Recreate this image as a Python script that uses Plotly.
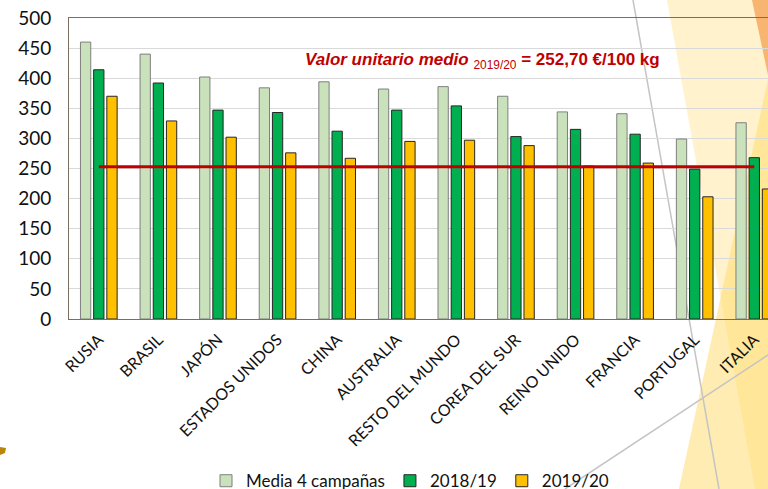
import plotly.graph_objects as go

# datos (EUR/100 kg)
paises = ["RUSIA", "BRASIL", "JAPÓN", "ESTADOS UNIDOS", "CHINA", "AUSTRALIA",
          "RESTO DEL MUNDO", "COREA DEL SUR", "REINO UNIDO", "FRANCIA",
          "PORTUGAL", "ITALIA"]
media_4_campanas = [460, 440, 402, 384, 394, 382, 386, 370, 344, 341, 299, 326]
campana_2018_19 = [414, 392, 347, 343, 312, 347, 354, 303, 315, 307, 249, 268]
campana_2019_20 = [370, 329, 302, 276, 267, 295, 297, 288, 254, 259, 203, 216]
valor_medio = 252.70

W, H = 768, 489
M_L, M_R, M_T, M_B = 69, 0, 18, 170


def px(x, y):
    # pixel position -> paper coordinates (for slide decorations)
    return (x - M_L) / (W - M_L - M_R), (H - M_B - y) / (H - M_T - M_B)


def path(points):
    pts = [px(x, y) for x, y in points]
    return "M" + "L".join(f"{a:.4f},{b:.4f}" for a, b in pts) + "Z"


fig = go.Figure()

fig.add_trace(go.Bar(
    x=paises, y=media_4_campanas, name="Media 4 campañas",
    marker=dict(color="#cae2bb", line=dict(color="#7f7f7f", width=1))
))
fig.add_trace(go.Bar(
    x=paises, y=campana_2018_19, name="2018/19",
    marker=dict(color="#00b050", line=dict(color="#262626", width=1))
))
fig.add_trace(go.Bar(
    x=paises, y=campana_2019_20, name="2019/20",
    marker=dict(color="#ffc000", line=dict(color="#262626", width=1))
))

# linea del valor medio 2019/20
fig.add_trace(go.Scatter(
    x=[paises[0], paises[-1]], y=[valor_medio, valor_medio],
    mode="lines", line=dict(color="#c00000", width=3),
    showlegend=False, hoverinfo="skip"
))

fig.add_annotation(
    x=3.43, y=428, xref="x", yref="y", xanchor="left", yanchor="middle",
    showarrow=False,
    text="<b><i>Valor unitario medio</i></b> <sub>2019/20</sub> "
         "<b>= 252,70 €/100 kg</b>",
    font=dict(family="Liberation Sans, Arial", size=17, color="#c00000")
)

# decoracion de la diapositiva
shapes = [
    dict(type="path", path=path([(667, 0), (800, 0), (800, 500), (757, 500)]),
         fillcolor="#fff2cc", line=dict(width=0)),
    dict(type="path", path=path([(770, 70), (800, 70), (800, 500), (676.6, 500)]),
         fillcolor="rgba(255,217,102,0.5)", line=dict(width=0)),
    dict(type="path", path=path([(752, 0), (800, 0), (800, 90), (768, 75)]),
         fillcolor="#f8b471", line=dict(width=0)),
    dict(type="path", path=path([(0, 447), (6, 448), (5, 453), (0, 455)]),
         fillcolor="#b8860b", line=dict(width=0)),
]
for (x0, y0), (x1, y1) in [((633, 0), (719, 489)), ((565, 489), (768, 355))]:
    a0, b0 = px(x0, y0)
    a1, b1 = px(x1, y1)
    shapes.append(dict(type="line", x0=a0, y0=b0, x1=a1, y1=b1,
                       line=dict(color="#c4c4c4", width=1.5)))
for s in shapes:
    s.update(xref="paper", yref="paper", layer="below")

fig.update_layout(
    width=W, height=H,
    margin=dict(l=M_L, r=M_R, t=M_T, b=M_B, autoexpand=False),
    paper_bgcolor="white", plot_bgcolor="rgba(0,0,0,0)",
    font=dict(family="Lato, sans-serif", color="#111111"),
    barmode="group", bargap=0.336, bargroupgap=0.22,
    shapes=shapes,
    legend=dict(orientation="h", x=px(206, 0)[0], xanchor="left",
                y=0.016, yref="container", yanchor="middle",
                font=dict(size=17), bgcolor="rgba(0,0,0,0)"),
    xaxis=dict(range=[-0.5, 11.23], tickangle=-45, tickfont=dict(size=16),
               showline=True, mirror=True, linecolor="#7a6e62", linewidth=1,
               ticks="outside", ticklen=4, tickcolor="rgba(0,0,0,0)",
               automargin=False),
    yaxis=dict(range=[0, 500], dtick=50, tickfont=dict(size=19),
               gridcolor="#d9d9d9", showline=True, linecolor="#7a6e62",
               linewidth=1, zeroline=False, automargin=False,
               ticks="outside", ticklen=13, tickcolor="rgba(0,0,0,0)"),
)

# sin margen de pagina, para que la figura ocupe toda la ventana
fig.write_html("out.html", config={"displayModeBar": False},
               post_script="document.body.style.margin='0';")
